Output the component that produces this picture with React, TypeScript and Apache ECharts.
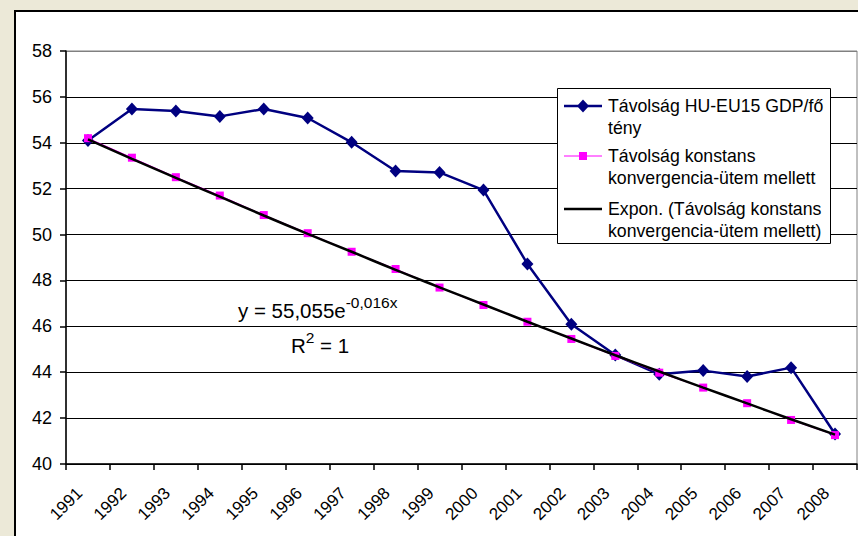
import React, { useEffect, useRef } from 'react';
import * as echarts from 'echarts';

const years = ['1991', '1992', '1993', '1994', '1995', '1996', '1997', '1998', '1999', '2000', '2001', '2002', '2003', '2004', '2005', '2006', '2007', '2008'];
const actualGap = [54.1, 55.47, 55.39, 55.15, 55.47, 55.08, 54.02, 52.77, 52.71, 51.94, 48.72, 46.09, 44.75, 43.91, 44.07, 43.81, 44.2, 41.31];
const constantGap = [54.2, 53.35, 52.5, 51.7, 50.85, 50.06, 49.25, 48.5, 47.69, 46.93, 46.2, 45.45, 44.71, 43.98, 43.33, 42.65, 41.92, 41.26];
const trendGap = [54.15, 53.3, 52.47, 51.65, 50.83, 50.03, 49.25, 48.46, 47.7, 46.95, 46.2, 45.47, 44.74, 44.03, 43.33, 42.64, 41.95, 41.28];
const yMin = 40;
const yMax = 58;
const yStep = 2;
const seriesNames = [
  'Távolság HU-EU15 GDP/fő tény',
  'Távolság konstans konvergencia-ütem mellett',
  'Expon. (Távolság konstans konvergencia-ütem mellett)',
];
const legendLabels = [
  'Távolság HU-EU15 GDP/fő\ntény',
  'Távolság konstans\nkonvergencia-ütem mellett',
  'Expon. (Távolság konstans\nkonvergencia-ütem mellett)',
];

const FONT = 'Arial, "Liberation Sans", sans-serif';
const NAVY = '#000080';
const PINK = '#FF00FF';

export default function App() {
  const ref = useRef<HTMLDivElement>(null);
  useEffect(() => {
    const chart = echarts.init(ref.current!, null, { renderer: 'svg' });
    const lx = 557.5;
    const ly = 88.5;
    const rows = [106, 156, 209];
    chart.setOption({
      animation: false,
      backgroundColor: 'transparent',
      textStyle: { fontFamily: FONT },
      grid: {
        left: 66,
        top: 51,
        width: 791,
        height: 413,
        show: true,
        backgroundColor: '#fff',
        borderColor: '#808080',
        borderWidth: 1,
      },
      legend: { show: false },
      xAxis: {
        type: 'category',
        data: years,
        boundaryGap: true,
        axisLine: { show: true, lineStyle: { color: '#000', width: 1.5 } },
        axisTick: { show: true, interval: 0, length: 6, lineStyle: { color: '#000', width: 1.5 } },
        axisLabel: { interval: 0, rotate: 45, fontSize: 17, color: '#000', fontFamily: FONT, margin: 18, padding: [0, 12, 0, 0] },
        splitLine: { show: false },
      },
      yAxis: {
        type: 'value',
        min: yMin,
        max: yMax,
        interval: yStep,
        axisLine: { show: true, lineStyle: { color: '#000', width: 1.5 } },
        axisTick: { show: true, length: 6, lineStyle: { color: '#000', width: 1.5 } },
        axisLabel: { fontSize: 18, color: '#000', fontFamily: FONT, margin: 14 },
        splitLine: {
          show: true,
          lineStyle: {
            color: ['#000', '#000', '#000', '#000', '#000', '#000', '#000', '#000', '#000', '#808080'],
            width: 1,
          },
        },
      },
      series: [
        {
          name: seriesNames[0],
          type: 'line',
          data: actualGap,
          symbol: 'diamond',
          symbolSize: [12, 13],
          lineStyle: { color: NAVY, width: 2.5 },
          itemStyle: { color: NAVY },
          z: 2,
        },
        {
          name: seriesNames[1],
          type: 'line',
          data: constantGap,
          symbol: 'rect',
          symbolSize: 8,
          lineStyle: { color: PINK, width: 1 },
          itemStyle: { color: PINK },
          z: 3,
        },
        {
          name: seriesNames[2],
          type: 'line',
          data: trendGap,
          symbol: 'none',
          smooth: true,
          lineStyle: { color: '#000', width: 2.5 },
          z: 4,
        },
      ],
      graphic: [
        {
          type: 'text',
          x: 238,
          y: 310,
          z: 50,
          style: {
            text: '{a|y = 55,055e}{s|-0,016x}',
            verticalAlign: 'middle',
            fill: '#000',
            rich: {
              a: { fontSize: 20.5, lineHeight: 32, fontFamily: FONT, fill: '#000' },
              s: { fontSize: 15.5, lineHeight: 13, fontFamily: FONT, verticalAlign: 'top', fill: '#000' },
            },
          },
        },
        {
          type: 'text',
          x: 291,
          y: 345,
          z: 50,
          style: {
            text: '{a|R}{s|2}{a| = 1}',
            verticalAlign: 'middle',
            fill: '#000',
            rich: {
              a: { fontSize: 20.5, lineHeight: 32, fontFamily: FONT, fill: '#000' },
              s: { fontSize: 15.5, lineHeight: 13, fontFamily: FONT, verticalAlign: 'top', fill: '#000' },
            },
          },
        },
        {
          type: 'rect',
          z: 100,
          shape: { x: lx, y: ly, width: 273, height: 155 },
          style: { fill: '#fff', stroke: '#000', lineWidth: 1 },
        },
        {
          type: 'line',
          z: 101,
          shape: { x1: 564, y1: rows[0], x2: 602, y2: rows[0] },
          style: { stroke: NAVY, lineWidth: 2.5 },
        },
        {
          type: 'polygon',
          z: 102,
          shape: { points: [[583, rows[0] - 6.5], [589, rows[0]], [583, rows[0] + 6.5], [577, rows[0]]] },
          style: { fill: NAVY },
        },
        {
          type: 'line',
          z: 101,
          shape: { x1: 564, y1: rows[1], x2: 602, y2: rows[1] },
          style: { stroke: PINK, lineWidth: 1 },
        },
        {
          type: 'rect',
          z: 102,
          shape: { x: 579, y: rows[1] - 4, width: 8, height: 8 },
          style: { fill: PINK },
        },
        {
          type: 'line',
          z: 101,
          shape: { x1: 564, y1: rows[2], x2: 602, y2: rows[2] },
          style: { stroke: '#000', lineWidth: 2.5 },
        },
        ...legendLabels.map((label, i) => ({
          type: 'text',
          z: 103,
          x: 608,
          y: rows[i] - 11,
          style: {
            text: label,
            fontSize: 17.7,
            fontFamily: FONT,
            lineHeight: 22,
            fill: '#000',
            verticalAlign: 'top',
          },
        })),
      ],
    });
    return () => chart.dispose();
  }, []);
  return (
    <div style={{ position: 'fixed', left: 0, top: 0, width: 858, height: 536, background: '#ECE9D8', overflow: 'hidden' }}>
      <div style={{ position: 'absolute', left: 14, top: 10, width: 900, height: 600, background: '#fff', border: '2px solid #000' }} />
      <div ref={ref} style={{ position: 'absolute', left: 0, top: 0, width: 858, height: 536 }} />
    </div>
  );
}
